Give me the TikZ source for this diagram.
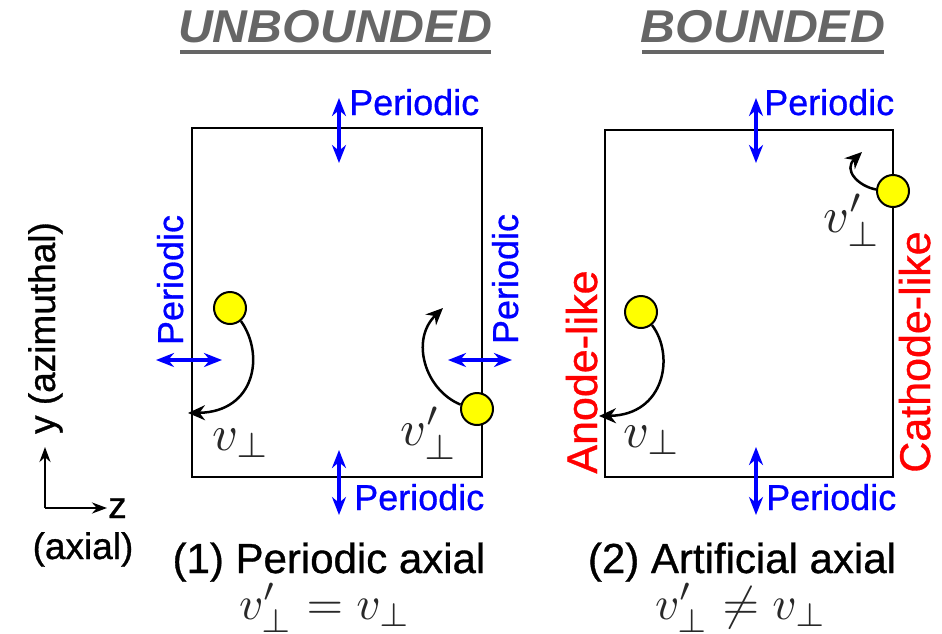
\documentclass[tikz,border=0pt]{standalone}
\usepackage[no-math]{fontspec}
\usepackage{graphicx}
\setmainfont{Liberation Sans}
\newfontfamily\thickfont{Liberation Sans}[FakeBold=0.8]
\usetikzlibrary{arrows.meta}
\definecolor{titlegray}{RGB}{102,102,102}
\definecolor{pblue}{RGB}{0,0,255}
\definecolor{pred}{RGB}{255,0,0}
\definecolor{dotyellow}{RGB}{255,255,0}
\definecolor{mathgray}{RGB}{40,40,40}
\newcommand{\scmath}[2]{\scalebox{#1}{$#2$}}
\newcommand{\wideT}[1]{\scalebox{1.05}[1]{#1}}
\begin{document}
\begin{tikzpicture}[x=1pt,y=-1pt,
  titletext/.style={font=\fontsize{46}{50}\selectfont\bfseries\itshape, text=titlegray, inner sep=0, anchor=base},
  uline/.style={draw=titlegray, line width=4pt},
  blab/.style={font=\thickfont\fontsize{36}{40}\selectfont, text=pblue, inner sep=0},
  rlab/.style={font=\thickfont\fontsize{43}{48}\selectfont, text=pred, inner sep=0, rotate=90, anchor=base},
  captext/.style={font=\thickfont\fontsize{42}{46}\selectfont, inner sep=0, anchor=base},
  mcap/.style={inner sep=0, anchor=base, text=mathgray},
  mlab/.style={inner sep=0, anchor=base west, text=mathgray},
  axl/.style={font=\thickfont\fontsize{37}{40}\selectfont, inner sep=0},
  dot/.style={circle, draw=black, fill=dotyellow, line width=2pt, minimum size=32pt, inner sep=0},
  barr/.style={draw=pblue, line width=3.5pt, {Stealth[length=18pt,width=14pt]}-{Stealth[length=18pt,width=14pt]}},
  karr/.style={draw=black, line width=2.5pt, -{Stealth[length=17pt,width=15pt]}},
  axarr/.style={draw=black, line width=2.5pt, -{Stealth[length=15pt,width=11pt]}},
  frame/.style={draw=black, line width=2.5pt, inner sep=0}]
\useasboundingbox (0,0) rectangle (942,633);

% titles
\node[titletext] (t1) at (335,42) {\wideT{UNBOUNDED}};
\coordinate (u1a) at (180,52); \coordinate (u1b) at (491,52);
\draw[uline] (u1a) -- (u1b);
\node[titletext] (t2) at (763,42) {\wideT{BOUNDED}};
\coordinate (u2a) at (642,52); \coordinate (u2b) at (884,52);
\draw[uline] (u2a) -- (u2b);

% frames
\node[frame, minimum width=290pt, minimum height=349pt] (box1) at (337,302.5) {};
\node[frame, minimum width=288pt, minimum height=347pt] (box2) at (749,303.5) {};

% blue periodic arrows
\coordinate (a1ta) at (339,98);  \coordinate (a1tb) at (339,163);
\coordinate (a1ba) at (339,450); \coordinate (a1bb) at (339,515);
\coordinate (a1la) at (156,360); \coordinate (a1lb) at (222,360);
\coordinate (a1ra) at (448,360); \coordinate (a1rb) at (512,360);
\coordinate (a2ta) at (756,98);  \coordinate (a2tb) at (756,163);
\coordinate (a2ba) at (756,447); \coordinate (a2bb) at (756,515);
\draw[barr] (a1ta) -- (a1tb);
\draw[barr] (a1ba) -- (a1bb);
\draw[barr] (a1la) -- (a1lb);
\draw[barr] (a1ra) -- (a1rb);
\draw[barr] (a2ta) -- (a2tb);
\draw[barr] (a2ba) -- (a2bb);

% labels
\node[blab, anchor=base west] (p1t) at (349,115) {Periodic};
\node[blab, anchor=base west] (p1b) at (354,510) {Periodic};
\node[blab, rotate=90, anchor=base] (p1l) at (183,280) {Periodic};
\node[blab, rotate=90, anchor=base] (p1r) at (518,279) {Periodic};
\node[blab, anchor=base west] (p2t) at (764,115) {Periodic};
\node[blab, anchor=base west] (p2b) at (766,510) {Periodic};
\node[rlab] (anode) at (597,372) {Anode-like};
\node[rlab] (cathode) at (930,352) {Cathode-like};

% particles
\node[dot] (c1) at (230,308) {};
\node[dot] (c2) at (477,409) {};
\node[dot] (c3) at (641,312) {};
\node[dot] (c4) at (893,191) {};
\coordinate (e1) at (188,413);
\coordinate (e2) at (443,308);
\coordinate (e3) at (599,416);
\coordinate (e4) at (862,152);
\draw[karr] (c1.-50) .. controls (265,355) and (255,412) .. (e1);
\draw[karr] (c2.165) .. controls (425,390) and (410,340) .. (e2);
\draw[karr] (c3.-50) .. controls (675,355) and (665,415) .. (e3);
\draw[karr] (c4.175) .. controls (858,186) and (843,170) .. (e4);

\node[mlab] (v1) at (212,450) {\scmath{5}{v_\perp}};
\node[mlab] (v1p) at (400,445) {\scmath{5}{v'_\perp}};
\node[mlab] (v2) at (623,447) {\scmath{5}{v_\perp}};
\node[mlab] (v2p) at (823,232) {\scmath{5}{v'_\perp}};

% axes
\coordinate (o) at (45,508);
\coordinate (oy) at (45,447);
\coordinate (oz) at (107,508);
\draw[axarr] (o) -- (oy);
\draw[axarr] (o) -- (oz);
\node[axl, anchor=base west] (zl) at (108,518) {z};
\node[axl, anchor=base] (axial) at (83,559) {(axial)};
\node[axl, rotate=90, anchor=base] (yl) at (55,328) {y (azimuthal)};

% captions
\node[captext] (cap1) at (329,573) {(1) Periodic axial};
\node[captext] (cap2) at (742,573) {(2) Artificial axial};
\node[mcap] (eq1) at (325,619) {\scmath{4.7}{v'_\perp = v_\perp}};
\node[mcap] (eq2) at (741,619) {\scmath{4.7}{v'_\perp \neq v_\perp}};
\end{tikzpicture}
\end{document}
